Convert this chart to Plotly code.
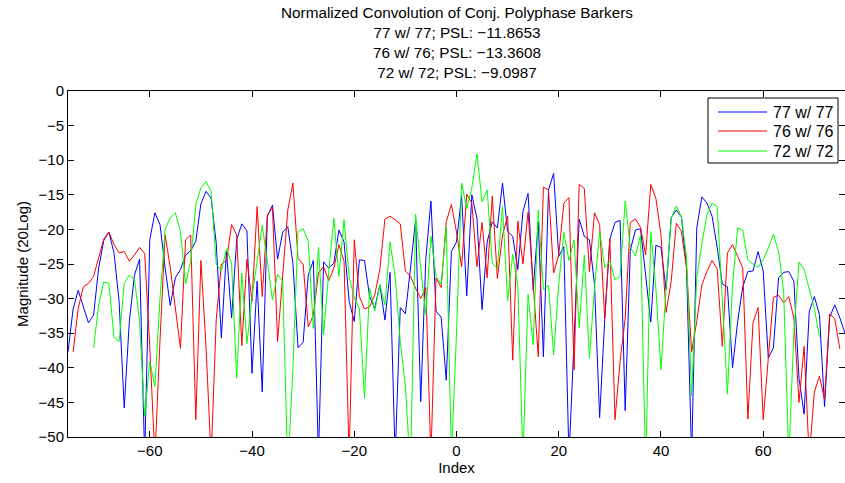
import plotly.graph_objects as go

# Lag indices for each autocorrelation series
idx_77 = list(range(-76, 77))
idx_76 = list(range(-75, 76))
idx_72 = list(range(-71, 72))

# 77 w/ 77 (blue) magnitude in dB, lags -76..76
mag_77 = [
    -37.7, -31.5, -28.8, -31.0, -33.5, -32.4, -25.6, -21.6, -20.4, -23.4,
    -30.4, -45.8, -33.3, -26.6, -24.3, -53.0, -21.5, -17.6, -19.3, -25.6,
    -31.0, -27.0, -25.8, -23.7, -23.1, -21.7, -16.3, -14.5, -15.5, -22.0,
    -35.7, -23.2, -32.8, -21.5, -19.2, -20.2, -40.8, -27.5, -43.5, -18.1,
    -16.5, -24.3, -20.4, -19.6, -24.9, -37.1, -36.3, -26.6, -24.5, -53.0,
    -24.7, -25.6, -24.9, -20.1, -21.8, -30.4, -33.3, -24.4, -24.5, -29.7,
    -31.4, -28.0, -33.1, -26.2, -53.0, -31.3, -32.2, -25.6, -18.6, -44.9,
    -24.2, -15.9, -31.8, -32.7, -41.8, -23.2, -21.8, -15.1, -29.6, -15.0,
    -18.4, -31.6, -21.8, -18.9, -19.8, -13.3, -20.3, -21.0, -25.8, -17.4,
    -14.8, -28.7, -18.9, -38.4, -14.3, -11.9, -23.9, -22.5, -53.0, -36.0,
    -18.5, -21.0, -21.5, -28.0, -47.2, -33.0, -21.4, -19.0, -18.7, -46.2,
    -23.0, -20.1, -19.9, -26.6, -33.4, -22.3, -22.6, -28.7, -18.3, -17.2,
    -18.2, -25.5, -53.0, -19.8, -15.3, -16.2, -18.1, -22.6, -27.9, -28.3,
    -40.0, -33.3, -28.3, -26.1, -26.0, -23.2, -26.0, -38.6, -37.1, -27.0,
    -26.2, -26.1, -27.5, -41.5, -46.7, -31.9, -29.7, -32.3, -45.6, -32.7,
    -30.9, -32.8, -35.0,
]

# 76 w/ 76 (red) magnitude in dB, lags -75..75
mag_76 = [
    -37.7, -31.4, -28.3, -27.8, -26.8, -24.2, -21.4, -20.4, -22.2, -23.4,
    -23.2, -24.6, -23.7, -22.6, -23.5, -37.0, -53.0, -36.0, -20.8, -25.5,
    -31.0, -37.2, -21.5, -20.8, -47.5, -24.5, -37.0, -53.0, -33.0, -25.0,
    -24.5, -19.3, -20.8, -36.8, -24.3, -30.4, -16.7, -29.7, -17.9, -16.9,
    -36.2, -26.0, -17.2, -13.3, -24.2, -25.0, -34.1, -32.4, -26.3, -25.4,
    -27.4, -25.6, -22.2, -24.6, -53.0, -21.5, -29.7, -31.5, -31.2, -29.5,
    -25.8, -18.5, -18.1, -18.6, -19.2, -26.0, -26.8, -28.5, -30.0, -28.4,
    -53.0, -27.0, -28.4, -18.9, -16.4, -20.4, -25.4, -14.9, -16.2, -25.4,
    -19.0, -27.0, -15.2, -27.1, -20.8, -18.1, -38.9, -18.8, -25.0, -17.5,
    -28.0, -38.4, -13.9, -14.3, -26.3, -23.7, -16.2, -15.4, -40.3, -13.5,
    -14.1, -26.1, -17.6, -19.3, -32.9, -21.4, -47.5, -39.1, -32.8, -19.0,
    -18.5, -19.7, -23.7, -13.5, -15.5, -20.8, -32.0, -27.5, -19.1, -20.3,
    -25.5, -37.7, -33.3, -28.0, -26.1, -24.5, -25.7, -36.9, -23.4, -22.2,
    -23.9, -25.6, -47.4, -33.5, -31.3, -47.5, -38.6, -29.8, -29.5, -30.6,
    -29.7, -32.8, -45.0, -36.9, -53.0, -43.5, -41.2, -44.6, -32.2, -32.9,
    -37.3,
]

# 72 w/ 72 (green) magnitude in dB, lags -71..71
mag_72 = [
    -37.1, -30.9, -27.6, -27.8, -35.6, -36.2, -27.8, -26.6, -27.2, -33.3,
    -47.0, -39.1, -42.7, -30.0, -20.0, -18.3, -17.6, -20.3, -27.9, -24.6,
    -16.4, -14.0, -13.1, -14.5, -25.0, -26.0, -22.8, -24.9, -41.5, -26.3,
    -36.5, -29.7, -24.6, -19.4, -24.6, -30.2, -26.5, -27.5, -55.0, -40.0,
    -20.3, -19.9, -21.7, -34.3, -22.6, -35.2, -26.3, -18.4, -26.8, -18.6,
    -26.8, -29.9, -31.4, -44.4, -28.5, -31.8, -28.0, -30.9, -21.8, -26.8,
    -36.2, -42.7, -55.0, -17.8, -25.6, -32.3, -21.0, -26.8, -27.9, -19.6,
    -53.0, -35.0, -13.3, -17.0, -14.0, -9.1, -16.0, -14.3, -24.9, -25.6,
    -16.7, -30.3, -23.6, -28.1, -53.0, -29.4, -36.7, -17.2, -28.7, -28.1,
    -38.1, -28.0, -20.4, -24.5, -21.5, -34.2, -23.7, -38.6, -28.5, -20.3,
    -25.5, -24.6, -27.3, -26.8, -15.9, -22.6, -23.8, -20.8, -55.0, -20.3,
    -28.5, -40.3, -28.5, -18.4, -16.6, -18.2, -24.0, -44.0, -27.0, -22.0,
    -17.9, -16.2, -16.7, -30.0, -43.8, -28.0, -19.8, -20.1, -24.4, -25.0,
    -25.5, -24.4, -22.7, -20.7, -23.2, -29.0, -53.0, -35.0, -24.7, -25.8,
    -28.5, -31.4, -35.5,
]

series_names = ["77 w/ 77", "76 w/ 76", "72 w/ 72"]
series_colors = ["#0000ff", "#ff0000", "#00ff00"]
x_ticks = [-60, -40, -20, 0, 20, 40, 60]
y_ticks = [0, -5, -10, -15, -20, -25, -30, -35, -40, -45, -50]

title_lines = [
    "Normalized Convolution of Conj. Polyphase Barkers",
    "77 w/ 77; PSL: \u221211.8653",
    "76 w/ 76; PSL: \u221213.3608",
    "72 w/ 72; PSL: \u22129.0987",
]

FONT = "Liberation Sans, Arial, Helvetica, sans-serif"

# Plot-area geometry in pixels (for converting the legend/title placement)
W, H = 845, 483
ML, MR, MT, MB = 68, 0, 91, 46
PW, PH = W - ML - MR, H - MT - MB


def px(xpix):
    return (xpix - ML) / PW


def py(ypix):
    return (H - MB - ypix) / PH


fig = go.Figure()
for xs, ys, name, col in zip([idx_77, idx_76, idx_72], [mag_77, mag_76, mag_72],
                             series_names, series_colors):
    fig.add_trace(go.Scatter(x=xs, y=ys, mode="lines", name=name,
                             line=dict(color=col, width=1), showlegend=False))

axis_common = dict(
    showgrid=False, zeroline=False, showline=True, linecolor="black",
    linewidth=1, mirror="ticks", ticks="inside", ticklen=6, tickwidth=1,
    tickcolor="black", tickfont=dict(family=FONT, size=15, color="black"),
)

# Legend box (drawn MATLAB-style: long line samples, tight rows)
shapes = [dict(type="rect", xref="paper", yref="paper",
               x0=px(708), x1=px(838), y0=py(163), y1=py(98),
               line=dict(color="black", width=1), fillcolor="white", layer="above")]
annotations = []
row_y = [112, 131, 151]
for name, col, ry in zip(series_names, series_colors, row_y):
    shapes.append(dict(type="line", xref="paper", yref="paper",
                       x0=px(718), x1=px(767), y0=py(ry), y1=py(ry),
                       line=dict(color=col, width=1.2), layer="above"))
    annotations.append(dict(text=name, xref="paper", yref="paper",
                            x=px(771), y=py(ry), xanchor="left", yanchor="middle",
                            showarrow=False,
                            font=dict(family=FONT, size=16, color="black")))

# Multi-line title
annotations.append(dict(text="<br>".join(title_lines), xref="paper", yref="paper",
                        x=0.5, y=py(2), xanchor="center", yanchor="top",
                        showarrow=False, align="center",
                        font=dict(family=FONT, size=15.3, color="black")))

fig.update_layout(
    width=W, height=H,
    margin=dict(l=ML, r=MR, t=MT, b=MB, autoexpand=False),
    paper_bgcolor="white", plot_bgcolor="white",
    font=dict(family=FONT, size=15, color="black"),
    xaxis=dict(range=[-76, 76], tickvals=x_ticks,
               title=dict(text="Index", standoff=2,
                          font=dict(family=FONT, size=15)),
               **axis_common),
    yaxis=dict(range=[-50, 0], tickvals=y_ticks,
               title=dict(text="Magnitude (20Log)", standoff=6,
                          font=dict(family=FONT, size=15)),
               **axis_common),
    shapes=shapes,
    annotations=annotations,
    showlegend=False,
)

fig.write_html("out.html")
